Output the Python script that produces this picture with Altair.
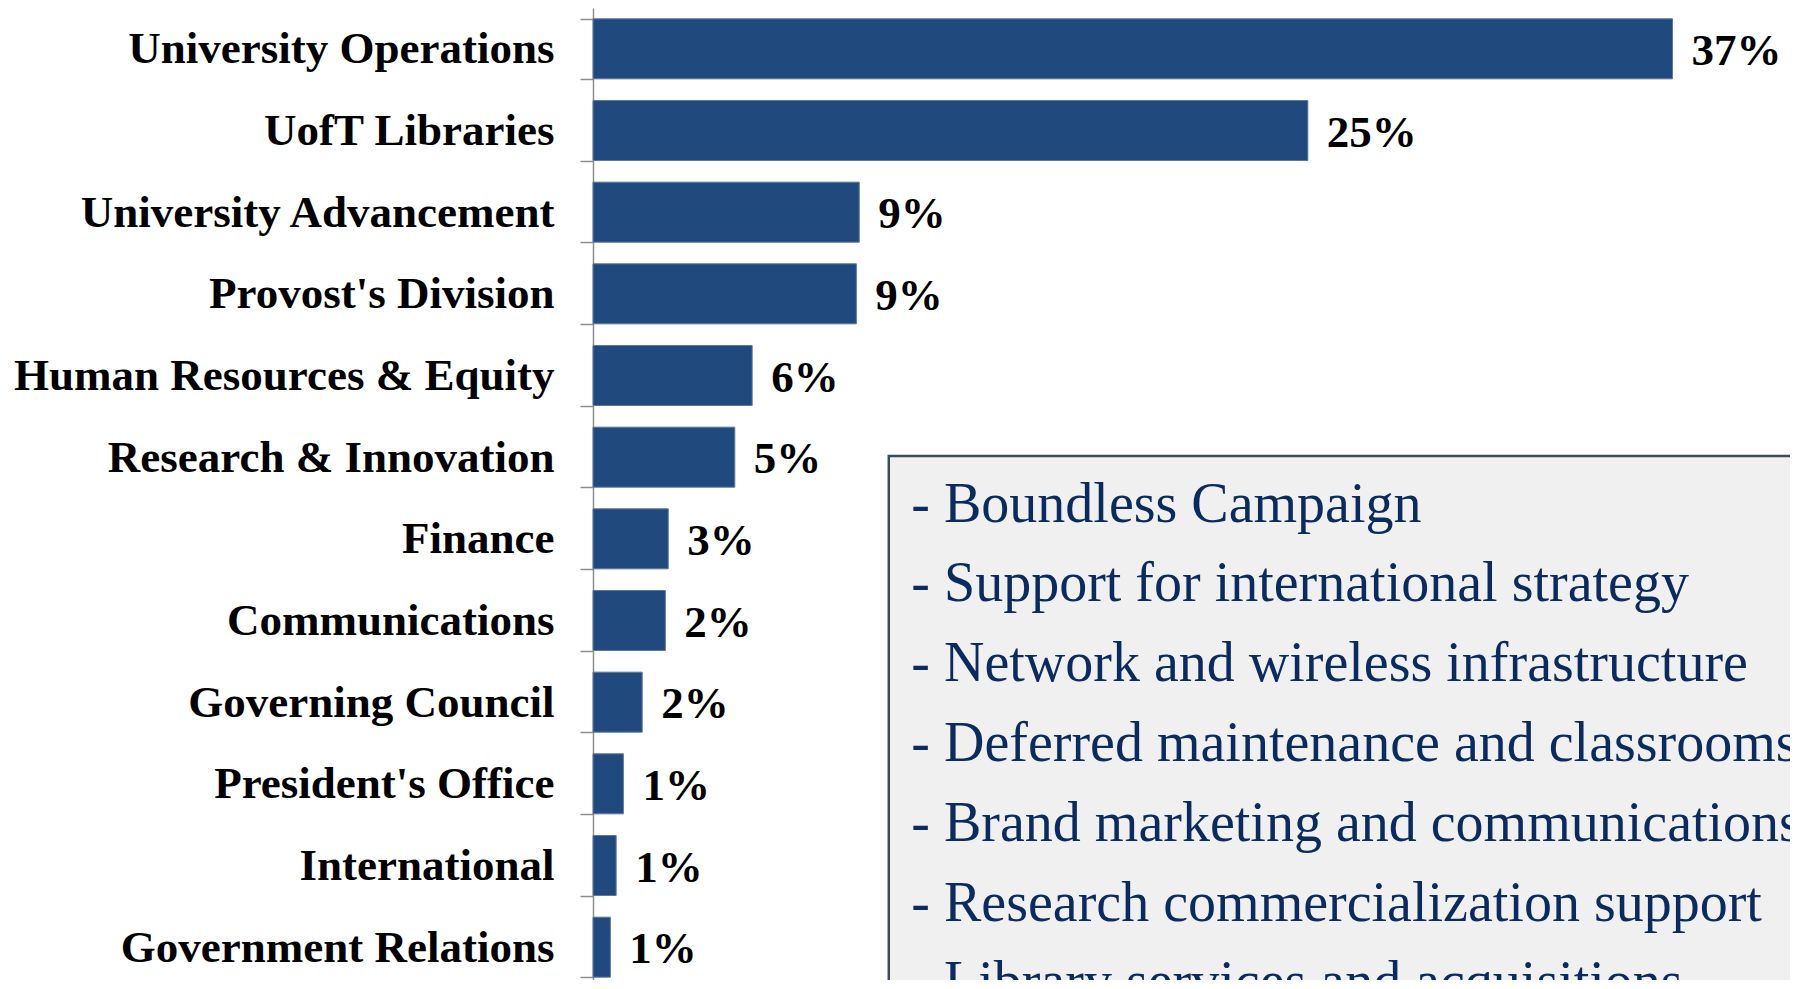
import altair as alt
import pandas as pd

# ---- data ----
divisions = [
    "University Operations", "UofT Libraries", "University Advancement",
    "Provost's Division", "Human Resources & Equity", "Research & Innovation",
    "Finance", "Communications", "Governing Council", "President's Office",
    "International", "Government Relations",
]
shares = [37.3, 24.7, 9.2, 9.1, 5.5, 4.9, 2.6, 2.5, 1.7, 1.05, 0.8, 0.6]
share_labels = ["37%", "25%", "9%", "9%", "6%", "5%", "3%", "2%", "2%", "1%", "1%", "1%"]

box_lines = [
    "- Boundless Campaign",
    "- Support for international strategy",
    "- Network and wireless infrastructure",
    "- Deferred maintenance and classrooms",
    "- Brand marketing and communications",
    "- Research commercialization support",
    "- Library services and acquisitions",
]

df = pd.DataFrame({"division": divisions, "share": shares, "label": share_labels})
df_box = pd.DataFrame({"line": list(range(len(box_lines))), "text": box_lines})

SERIF = "Liberation Serif"
BAR = "#204A7E"
NAVY = "#0B2B5E"

xscale = alt.Scale(domain=[0, 41.36], nice=False, zero=True)
yscale = alt.Scale(domain=divisions, range=[0, 980], paddingInner=0.265, paddingOuter=0.1325)

base = alt.Chart(df).encode(
    y=alt.Y("division:N", sort=divisions, scale=yscale, title=None,
            axis=alt.Axis(tickBand="extent", domainColor="#8E8E8E", domainWidth=1.5,
                          tickColor="#8E8E8E", tickWidth=1.5, tickSize=13,
                          labelFont=SERIF, labelFontSize=45, labelFontWeight="bold",
                          labelColor="#000000", labelPadding=26, labelLimit=1000,
                          grid=False)),
)

bars = base.mark_bar(color=BAR, stroke="#5F7897", strokeWidth=1).encode(
    x=alt.X("share:Q", scale=xscale, axis=None),
)

pct = base.mark_text(align="left", baseline="middle", dx=19, dy=2, font=SERIF,
                     fontSize=45, fontWeight="bold", color="#000000").encode(
    x=alt.X("share:Q", scale=xscale, axis=None),
    text="label:N",
)

bar_layer = alt.layer(bars, pct)

box = alt.Chart(pd.DataFrame({"k": [0]})).mark_rect(
    fill="#F0F0F0", stroke="#3B4B61", strokeWidth=2.5
).encode(
    x=alt.X(datum=10.22, type="quantitative", scale=xscale, axis=None),
    x2=alt.datum(45),
    y=alt.value(448),
    y2=alt.value(1200),
)

box_text = alt.Chart(df_box).mark_text(
    align="left", baseline="middle", font=SERIF, fontSize=56, color=NAVY
).encode(
    x=alt.X(datum=11.0, type="quantitative", scale=xscale, axis=None),
    y=alt.Y("line:Q", scale=alt.Scale(domain=[0, 6], range=[496.5, 975.3]), axis=None),
    text="text:N",
)

chart = alt.layer(bar_layer, box, box_text).resolve_scale(y="independent").properties(
    width=1197,
    height=972,
    autosize=alt.AutoSizeParams(type="none"),
    padding={"left": 585, "top": 0, "right": 0, "bottom": 0},
    background="white",
).configure_view(stroke=None)

chart.save("out.html", embed_options={"renderer": "svg", "actions": False})
